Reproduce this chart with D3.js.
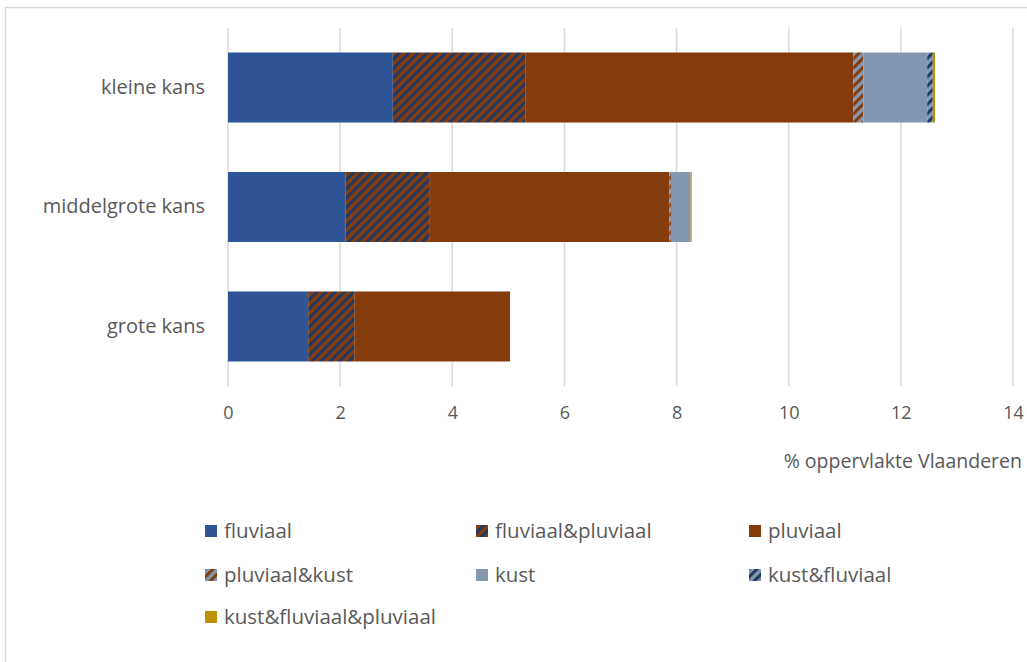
<!DOCTYPE html>
<html>
<head>
<meta charset="utf-8">
<script src="https://cdn.jsdelivr.net/npm/d3@7"></script>
<style>
  html, body { margin: 0; padding: 0; background: #fff; }
  svg { display: block; }
  text { font-family: "Open Sans", "Liberation Sans", sans-serif; fill: #595959; }
</style>
</head>
<body>
<svg id="chart" width="1027" height="662"></svg>
<script>
const categories = ["kleine kans", "middelgrote kans", "grote kans"];
const seriesNames = ["fluviaal", "fluviaal&pluviaal", "pluviaal", "pluviaal&kust", "kust", "kust&fluviaal", "kust&fluviaal&pluviaal"];
const fluviaal = [2.94, 2.10, 1.43];
const fluviaalPluviaal = [2.36, 1.50, 0.83];
const pluviaal = [5.85, 4.27, 2.77];
const pluviaalKust = [0.18, 0.03, 0];
const kust = [1.14, 0.35, 0];
const kustFluviaal = [0.10, 0.00, 0];
const kustFluviaalPluviaal = [0.04, 0.02, 0];
const xTicks = [0, 2, 4, 6, 8, 10, 12, 14];
const xTitle = "% oppervlakte Vlaanderen";

const seriesValues = [fluviaal, fluviaalPluviaal, pluviaal, pluviaalKust, kust, kustFluviaal, kustFluviaalPluviaal];
const fills = ["#2F5597", "url(#hFP)", "#843C0C", "url(#hPK)", "#8497B0", "url(#hKF)", "#BF9000"];

const svg = d3.select("#chart");

// patterns
const defs = svg.append("defs");
function hatch(id, bg, fg) {
  const p = defs.append("pattern").attr("id", id)
    .attr("patternUnits", "userSpaceOnUse")
    .attr("width", 6.5).attr("height", 6.5)
    .attr("patternTransform", "rotate(45)");
  p.append("rect").attr("width", 6.5).attr("height", 6.5).attr("fill", bg);
  p.append("rect").attr("width", 3.0).attr("height", 6.5).attr("fill", fg);
}
hatch("hFP", "#843C0C", "#203864");
hatch("hPK", "#8497B0", "#843C0C");
hatch("hKF", "#8497B0", "#203864");

// outer border
svg.append("path").attr("d", "M5.5,662 V7.5 H1027").attr("fill", "none").attr("stroke", "#d9d9d9").attr("stroke-width", 1.5);

const x = d3.scaleLinear().domain([0, 14]).range([228, 1013]);
const y = d3.scaleBand().domain(categories).range([28, 386]).paddingInner(0.414).paddingOuter(0.205);

// gridlines
svg.append("g").selectAll("line").data(xTicks).join("line")
  .attr("x1", d => x(d)).attr("x2", d => x(d))
  .attr("y1", 28).attr("y2", 386)
  .attr("stroke", "#d9d9d9").attr("stroke-width", 1.5);

// x axis labels
const xAxis = d3.axisBottom(x).tickValues(xTicks).tickSize(0).tickPadding(0).tickFormat(d3.format("d"));
const gx = svg.append("g").attr("transform", "translate(0,413)").call(xAxis);
gx.select(".domain").remove();
gx.selectAll("text").attr("font-size", 18).attr("dy", "0.35em").attr("y", 0)
  .style("font-family", "'Open Sans', sans-serif").attr("fill", "#595959");

svg.append("text").attr("x", 1022).attr("y", 461).attr("dy", "0.35em").attr("text-anchor", "end")
  .attr("font-size", 19.5).text(xTitle);

// y labels
const yAxis = d3.axisLeft(y).tickSize(0).tickPadding(0);
const gy = svg.append("g").attr("transform", "translate(205,0)").call(yAxis);
gy.select(".domain").remove();
gy.selectAll("text").attr("font-size", 20).style("font-family", "'Open Sans', sans-serif").attr("fill", "#595959");

// stacked bars
const rows = categories.map((c, i) => {
  const r = { cat: c };
  seriesNames.forEach((s, j) => r[s] = seriesValues[j][i]);
  return r;
});
const stacked = d3.stack().keys(seriesNames)(rows);
svg.append("g").selectAll("g").data(stacked).join("g")
  .attr("fill", (d, i) => fills[i])
  .selectAll("rect").data(d => d).join("rect")
  .attr("x", d => x(d[0]))
  .attr("width", d => Math.max(0, x(d[1]) - x(d[0])))
  .attr("y", d => y(d.data.cat))
  .attr("height", y.bandwidth());

// legend
const legCols = [205, 476, 749];
const legRows = [531, 575, 617];
const leg = svg.append("g").selectAll("g").data(seriesNames).join("g")
  .attr("transform", (d, i) => `translate(${legCols[i % 3]},${legRows[Math.floor(i / 3)]})`);
leg.append("rect").attr("x", 0).attr("y", -6).attr("width", 12).attr("height", 12)
  .attr("fill", (d, i) => fills[i]);
leg.append("text").attr("x", 19).attr("y", 0).attr("dy", "0.35em")
  .attr("font-size", 20.5).text(d => d);
</script>
</body>
</html>
